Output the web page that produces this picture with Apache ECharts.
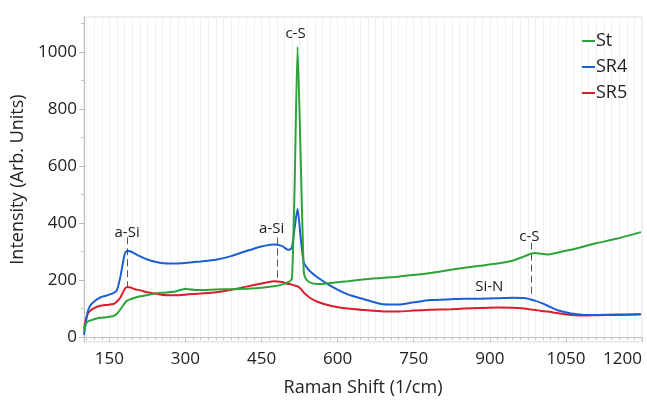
<!DOCTYPE html>
<html>
<head>
<meta charset="utf-8">
<script src="https://cdn.jsdelivr.net/npm/echarts@6/dist/echarts.min.js"></script>
<style>
  html, body { margin: 0; padding: 0; background: #fff; }
  #chart { width: 647px; height: 402px; }
</style>
</head>
<body>
<div id="chart"></div>
<script>
// Raman shift positions (1/cm) shared by all three spectra
const ramanShift = [100, 103, 107, 112, 120, 132, 145, 158, 165, 172, 180, 185, 192, 200, 211, 225, 240, 257, 280, 300,
  305, 330, 360, 390, 420, 450, 474, 490, 500, 505, 510, 515, 521, 527, 533, 537, 545, 560, 586, 620,
  652, 690, 720, 750, 783, 823, 850, 880, 915, 945, 968, 981, 990, 1001, 1014, 1030, 1047, 1060, 1086, 1112,
  1150, 1198];

const stIntensity = [20, 45, 54, 58, 63, 68, 70, 74, 82, 98, 118, 128, 133, 138, 143, 148, 153, 156, 160, 170,
  168, 165, 167, 168, 170, 173, 178, 184, 191, 195, 205, 511, 1017, 640, 235, 205, 192, 186, 190, 196,
  203, 208, 212, 218, 225, 236, 243, 250, 258, 268, 283, 292, 295, 292, 290, 295, 302, 306, 318, 330,
  345, 368];

const sr4Intensity = [8, 45, 86, 110, 125, 139, 146, 154, 165, 214, 290, 303, 300, 293, 283, 272, 264, 259, 258, 260,
  261, 265, 271, 284, 302, 318, 325, 320, 308, 306, 315, 380, 450, 350, 262, 250, 232, 210, 180, 150,
  133, 115, 114, 122, 130, 133, 135, 135, 136, 138, 137, 132, 127, 120, 110, 97, 88, 83, 78, 78,
  79, 80];

const sr5Intensity = [30, 57, 80, 92, 102, 110, 113, 116, 125, 140, 168, 176, 174, 168, 164, 157, 153, 148, 147, 149,
  150, 153, 157, 166, 177, 188, 196, 193, 187, 186, 184, 181, 178, 170, 157, 150, 138, 124, 110, 100,
  95, 90, 90, 93, 96, 98, 100, 102, 104, 103, 100, 97, 95, 92, 90, 85, 80, 78, 76, 77,
  78, 80];

const seriesNames = ['St', 'SR4', 'SR5'];
const xTickLabels = [150, 300, 450, 600, 750, 900, 1050, 1200];
const yTickLabels = [0, 200, 400, 600, 800, 1000];
const yMinorTicks = [100, 300, 500, 700, 900, 1100];

// Peak assignments: label text, label position and optional dashed marker span
const peakLabels = ['a-Si', 'a-Si', 'c-S', 'c-S', 'Si-N'];
const peakLabelX = [185, 470, 517, 978, 899];
const peakLabelY = [367, 380, 1065, 352, 177];
const peakMarkX = [185, 480, null, 981, null];
const peakMarkTop = [350, 349, null, 331, null];
const peakMarkBottom = [178, 200, null, 139, null];

const colors = ['#2ea33a', '#1c5fd4', '#d81e2c'];
const FONT = '"Open Sans", "Noto Sans", sans-serif';

const xMinorTicks = [];
for (let v = 105; v <= 1200; v += 15) xMinorTicks.push(v);

function pairs(ys) { return ramanShift.map((x, i) => [x, ys[i]]); }

const markLines = [];
peakMarkX.forEach((x, i) => {
  if (x !== null) markLines.push([{ coord: [x, peakMarkTop[i]] }, { coord: [x, peakMarkBottom[i]] }]);
});

const labelPoints = peakLabels.map((t, i) => ({ value: [peakLabelX[i], peakLabelY[i]], name: t }));

function spectrum(name, values, color, z) {
  return {
    name, type: 'line', data: pairs(values), showSymbol: false, symbol: 'none',
    smooth: 0.2,
    lineStyle: { color, width: 2 }, itemStyle: { color }, z
  };
}

const chart = echarts.init(document.getElementById('chart'), null, { renderer: 'canvas' });

chart.setOption({
  animation: false,
  backgroundColor: '#fff',
  textStyle: { fontFamily: FONT },
  grid: { left: 84, right: 5, top: 17, bottom: 59, show: true, borderColor: '#dcdcdc', borderWidth: 1 },
  legend: {
    data: seriesNames,
    orient: 'vertical',
    left: 577, top: 26,
    icon: 'rect', itemWidth: 13, itemHeight: 2, itemGap: 6,
    textStyle: { fontSize: 18, color: '#222', fontFamily: FONT, padding: [0, 0, 0, -4], lineHeight: 20 }
  },
  xAxis: [{
    type: 'value', min: 100, max: 1200,
    name: 'Raman Shift (1/cm)', nameLocation: 'middle', nameGap: 37,
    nameTextStyle: { fontSize: 18, color: '#222', fontFamily: FONT },
    axisLine: { show: true, lineStyle: { color: '#bdbdbd' } },
    axisTick: { show: true, customValues: xTickLabels, length: 5, lineStyle: { color: '#bdbdbd' } },
    axisLabel: { customValues: xTickLabels, formatter: v => String(v), fontSize: 17, color: '#222', margin: 9, alignMaxLabel: 'right', fontFamily: FONT },
    splitLine: { show: true, lineStyle: { color: '#d6d6d6', width: 1 } }
  }, {
    type: 'value', min: 100, max: 1200, position: 'bottom',
    axisLine: { show: false },
    axisTick: { show: true, customValues: xMinorTicks, length: 3, lineStyle: { color: '#c8c8c8' } },
    axisLabel: { show: false },
    splitLine: { show: true, lineStyle: { color: '#f0f0f0', width: 1 } }
  }],
  yAxis: [{
    type: 'value', min: -17, max: 1122,
    name: 'Intensity (Arb. Units)', nameLocation: 'middle', nameGap: 55,
    nameTextStyle: { fontSize: 18, color: '#222', fontFamily: FONT },
    axisLine: { show: true, lineStyle: { color: '#bdbdbd' } },
    axisTick: { show: true, customValues: yTickLabels, length: 5, lineStyle: { color: '#bdbdbd' } },
    axisLabel: { customValues: yTickLabels, formatter: v => String(v), fontSize: 17, color: '#222', margin: 7, fontFamily: FONT },
    splitLine: { show: false }
  }, {
    type: 'value', min: -17, max: 1122, position: 'left',
    axisLine: { show: false },
    axisTick: { show: true, customValues: yMinorTicks, length: 3, lineStyle: { color: '#c8c8c8' } },
    axisLabel: { show: false },
    splitLine: { show: false }
  }],
  series: [
    spectrum('SR5', sr5Intensity, colors[2], 3),
    spectrum('SR4', sr4Intensity, colors[1], 4),
    spectrum('St', stIntensity, colors[0], 5),
    {
      name: 'peaks', type: 'scatter', data: labelPoints, symbolSize: 0, silent: true, z: 6,
      itemStyle: { color: '#222', opacity: 1 },
      label: {
        show: true, position: 'inside', formatter: p => p.name,
        fontSize: 15, color: '#1a1a1a', fontFamily: FONT
      },
      markLine: {
        silent: true, symbol: ['none', 'none'],
        lineStyle: { color: '#555', type: [7, 4], width: 1 },
        label: { show: false },
        data: markLines
      }
    }
  ]
});
</script>
</body>
</html>
